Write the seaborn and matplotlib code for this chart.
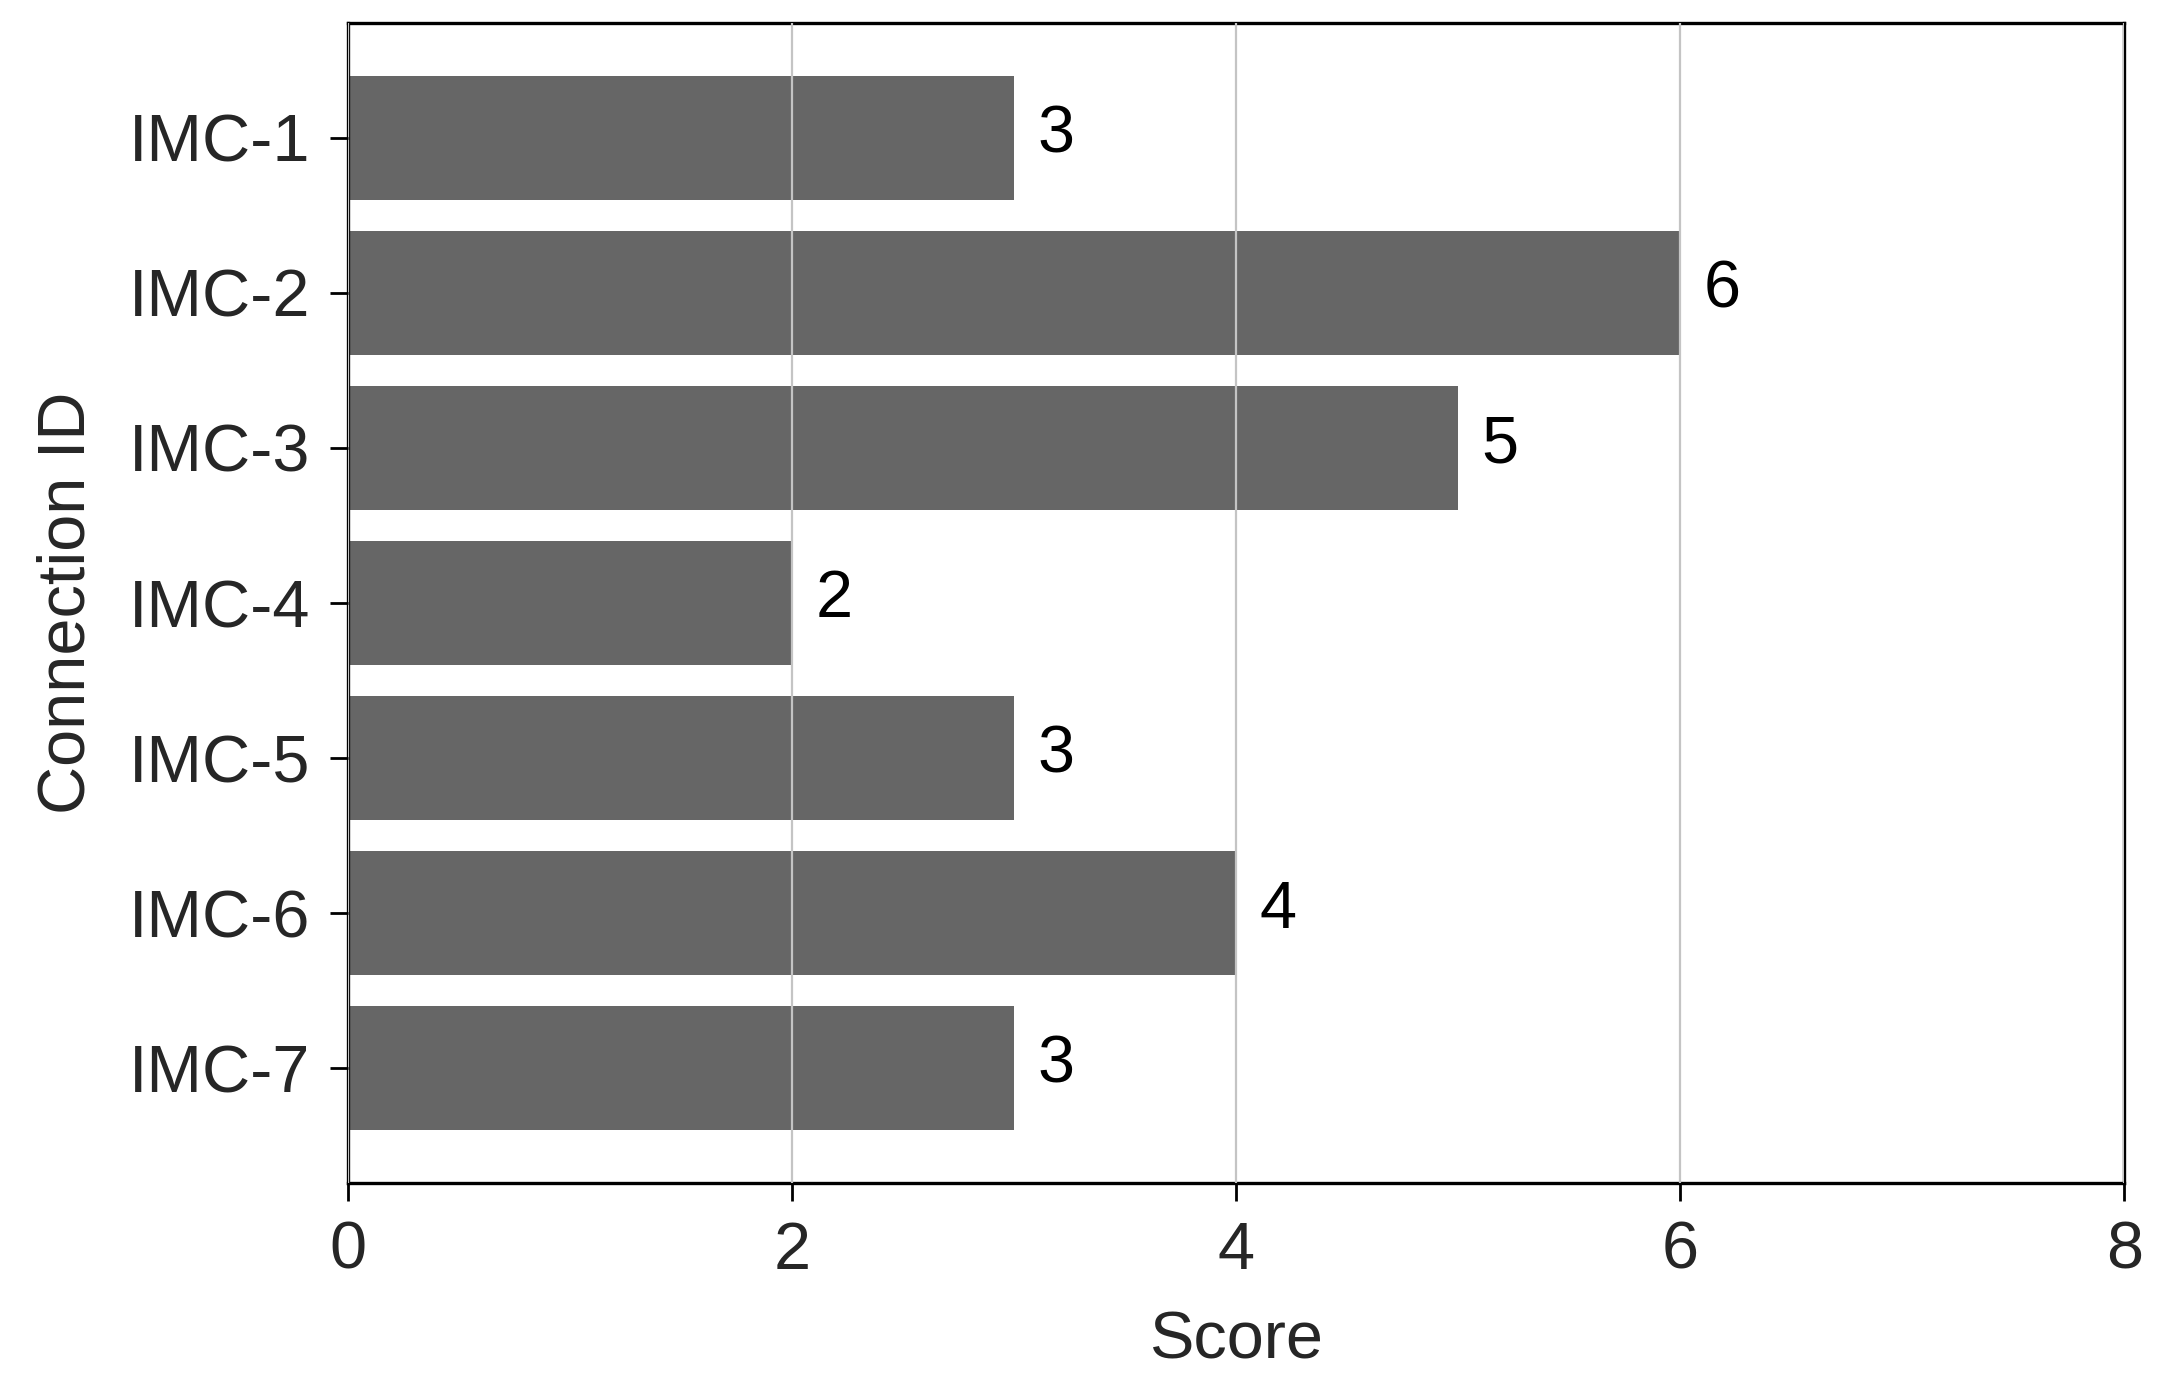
import matplotlib
matplotlib.use("Agg")
import matplotlib.pyplot as plt
import seaborn as sns

# chart values
connection_ids = ["IMC-1", "IMC-2", "IMC-3", "IMC-4", "IMC-5", "IMC-6", "IMC-7"]
scores = [3, 6, 5, 2, 3, 4, 3]
x_ticks = [0, 2, 4, 6, 8]

sns.set_style("white")
plt.rcParams['font.family'] = ['Liberation Sans', 'DejaVu Sans']

fig = plt.figure(figsize=(21.632, 13.772), dpi=100)
ax = fig.add_axes([348 / 2163, 1 - 1183 / 1377, 1776 / 2163, 1160 / 1377])

sns.barplot(x=scores, y=connection_ids, orient="h", color="#666666",
            saturation=1, width=0.8, linewidth=0, ax=ax, zorder=2)

# value labels next to each bar
for i, v in enumerate(scores):
    ax.annotate(str(v), xy=(v, i), xytext=(17, 2), textcoords="offset points",
                ha="left", va="center", fontsize=48, color="black")

ax.set_xlim(0, 8)
ax.set_ylim(6.74, -0.74)
ax.set_xticks(x_ticks)
ax.xaxis.grid(True, color="#c4c4c4", linewidth=1.6, zorder=3)
ax.set_axisbelow(False)

ax.set_xlabel("Score", fontsize=48, labelpad=20)
ax.set_ylabel("Connection ID", fontsize=48, labelpad=22)
ax.tick_params(axis="both", labelsize=48, length=13, width=2, color="black",
               pad=14, left=True, bottom=True)

for s in ax.spines.values():
    s.set_visible(True)
    s.set_color("black")
    s.set_linewidth(2.4)

fig.savefig("out.png", dpi=100)
